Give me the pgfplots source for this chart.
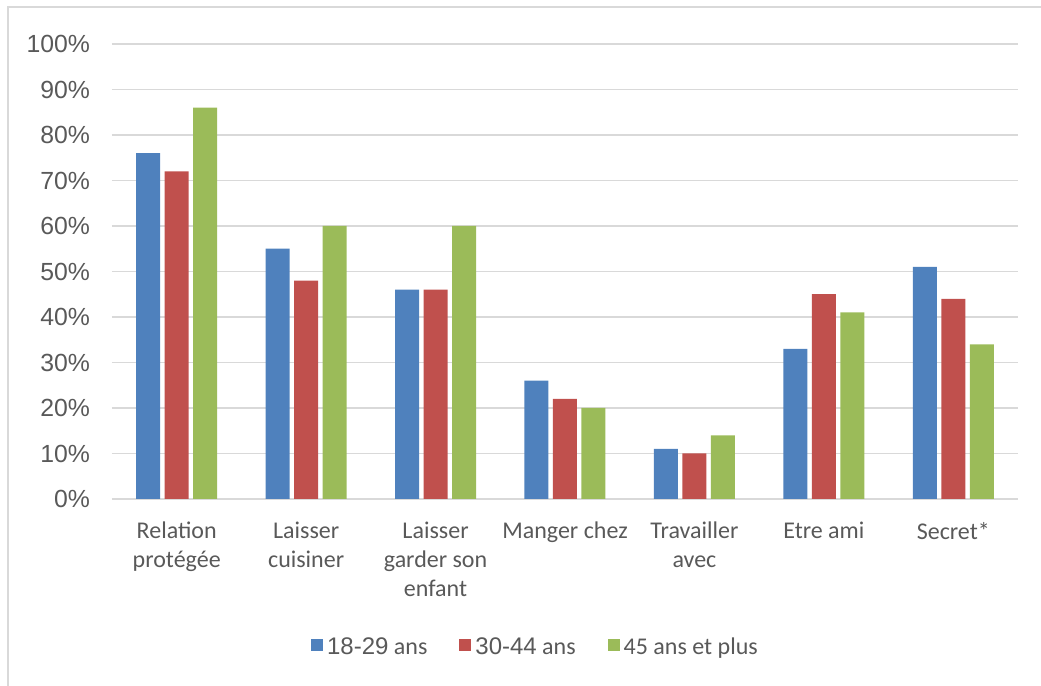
\documentclass[border=0pt]{standalone}
\usepackage{pgfplots}
\pgfplotsset{compat=1.18}
\usepackage{fontspec}
\setmainfont{Carlito}
\newfontfamily\arialf{Liberation Sans}
\definecolor{cblue}{HTML}{4F81BD}
\definecolor{cred}{HTML}{C0504D}
\definecolor{cgreen}{HTML}{9BBB59}
\definecolor{ctext}{HTML}{595959}
\definecolor{cgrid}{HTML}{D9D9D9}
\begin{document}
\begin{tikzpicture}
\useasboundingbox (0,0) rectangle (520.5pt,343pt);
\draw[cgrid, line width=0.8pt] (4pt,0) -- (4pt,339.5pt) -- (521pt,339.5pt);
\begin{axis}[
  at={(56pt,93.5pt)}, anchor=south west,
  scale only axis, width=453pt, height=227.5pt,
  xmin=-0.5, xmax=6.5, ymin=0, ymax=100,
  ybar=2.25pt, bar width=12pt,
  axis lines*=left,
  y axis line style={draw=none},
  x axis line style={cgrid, line width=0.8pt, -},
  ymajorgrids, major grid style={cgrid, line width=0.8pt},
  major tick length=0pt,
  ytick={0,10,...,100},
  /pgf/number format/assume math mode=true,
  yticklabel={\arialf\pgfmathprintnumber{\tick}\%},
  yticklabel style={font=\fontsize{12.4}{14}\selectfont\arialf, text=ctext, xshift=-7.5pt},
  xtick={0,...,6},
  xticklabels={Relation\\protégée, Laisser\\cuisiner, Laisser\\garder son\\enfant, Manger chez, Travailler\\avec, Etre ami, Secret*},
  xticklabel style={font=\fontsize{12}{14.5}\selectfont, text=ctext, align=center, anchor=north, yshift=-8pt},
  legend style={draw=none, at={(0.4685,-0.3275)}, anchor=center, legend columns=3,
    font=\fontsize{12}{14}\selectfont, text=ctext,
    /tikz/every even column/.append style={column sep=14pt}},
  legend image code/.code={\fill[#1, draw=none] (0pt,-1.5pt) rectangle (6pt,4.5pt);},
]
\addplot[fill=cblue, draw=none] coordinates {(0,76) (1,55) (2,46) (3,26) (4,11) (5,33) (6,51)};
\addplot[fill=cred, draw=none] coordinates {(0,72) (1,48) (2,46) (3,22) (4,10) (5,45) (6,44)};
\addplot[fill=cgreen, draw=none] coordinates {(0,86) (1,60) (2,60) (3,20) (4,14) (5,41) (6,34)};
\legend{{\arialf 18-29} ans, {\arialf 30-44} ans, 45 ans et plus}
\end{axis}
\end{tikzpicture}
\end{document}
